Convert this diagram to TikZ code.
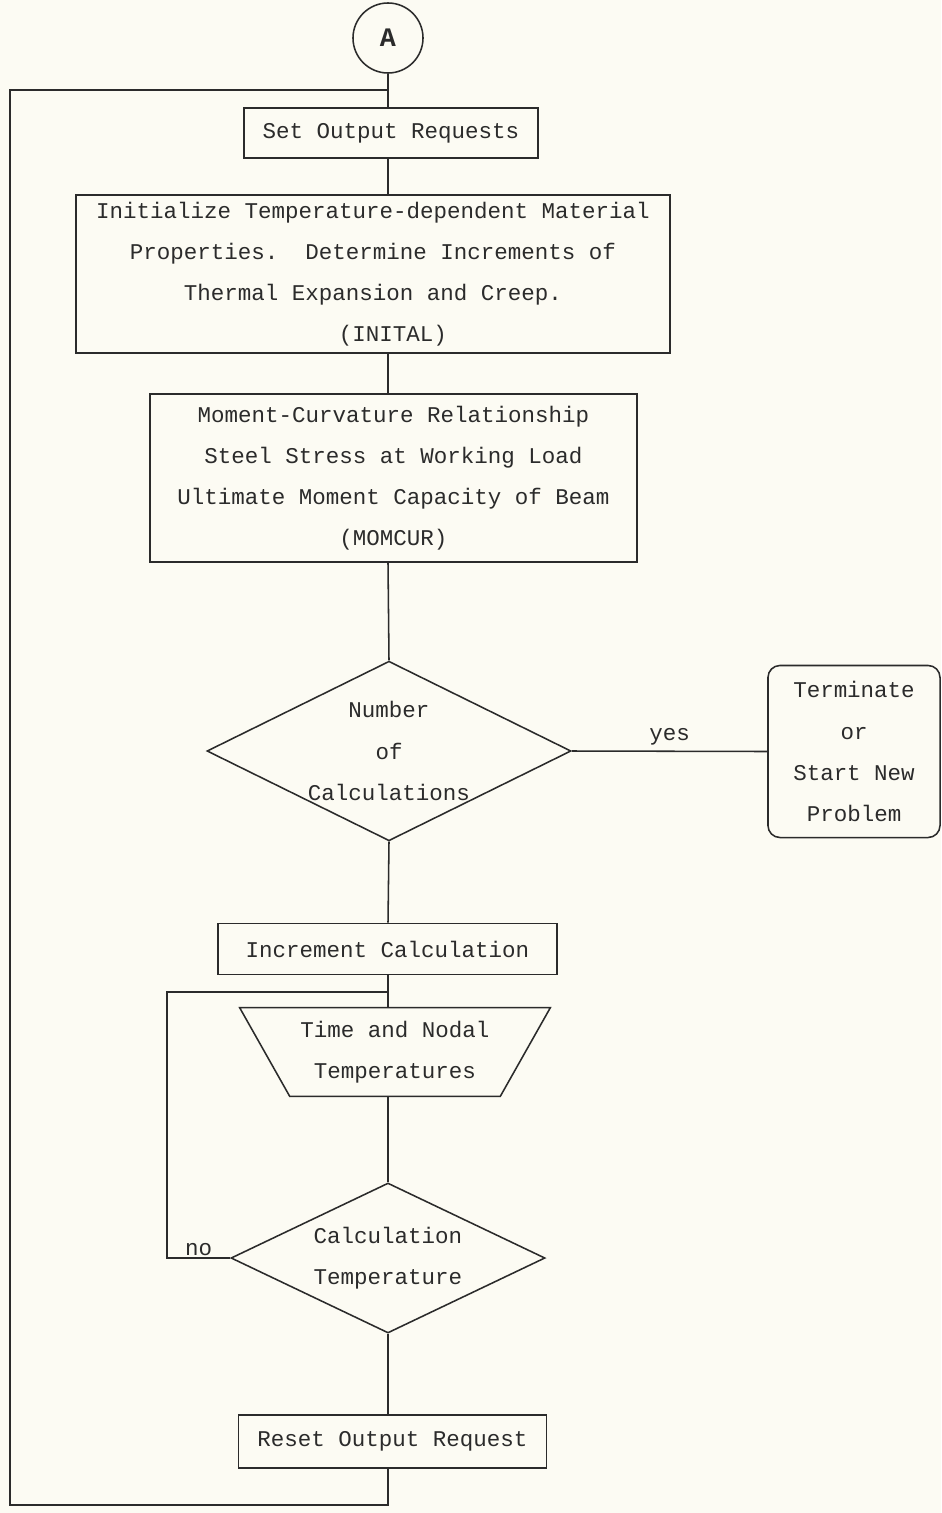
\documentclass[tikz,border=0pt]{standalone}
\usepackage{fontspec}
\usepackage{tikz}
\usetikzlibrary{shapes.geometric,calc}
\newfontfamily\tw{Liberation Mono}
\definecolor{paper}{HTML}{FCFBF3}
\definecolor{ink}{HTML}{2B2B2B}
\tikzset{
  flowtext/.style={font=\tw\fontsize{16}{29.2}\selectfont, text=ink},
  flow/.style={draw=ink, line width=1.1pt},
  stepbox/.style={flowtext, flow, align=center, inner sep=0pt},
  endbox/.style={stepbox, rounded corners=0.3cm},
  decision/.style={stepbox, diamond, aspect=2},
  iobox/.style={flowtext, align=center, inner sep=0pt},
  connector/.style={circle, flow, inner sep=0pt, minimum size=1.75cm,
    font=\tw\bfseries\fontsize{19}{20}\selectfont, text=ink},
  branch/.style={flowtext, inner sep=1pt},
}

\begin{document}
\begin{tikzpicture}[x=0.025cm, y=-0.025cm]

\fill[paper] (0,0) rectangle (941,1513);
\useasboundingbox (0,0) rectangle (941,1513);

\coordinate (spine) at (388,0);

\node[connector] (conA) at (388,38) {A};

\node[stepbox, minimum width=7.35cm, minimum height=1.25cm] (setout) at (391,133)
  {Set Output Requests};

\node[stepbox, minimum width=14.85cm, minimum height=3.95cm] (init) at (373,274)
  {Initialize Temperature-dependent Material\\
   Properties.\ \ Determine Increments of\\
   Thermal Expansion and Creep.\\
   \hspace*{1cm}(INITAL)};

\node[stepbox, minimum width=12.175cm, minimum height=4.2cm] (momcur) at (393.5,478)
  {Moment-Curvature Relationship\\
   Steel Stress at Working Load\\
   Ultimate Moment Capacity of Beam\\
   (MOMCUR)};

\node[decision, minimum width=9.1cm, minimum height=4.45cm] (ncalc) at (389,751)
  {Number\\of\\Calculations};

\node[endbox, minimum width=4.3cm, minimum height=4.3cm] (term) at (854,751.5)
  {Terminate\\or\\Start New\\Problem};

\node[stepbox, minimum width=8.475cm, minimum height=1.275cm] (incr) at (387.5,949)
  {Increment Calculation};

\node[iobox, minimum width=7.75cm, minimum height=2.2cm] (tnodal) at (395,1052)
  {Time and Nodal\\Temperatures};
\draw[flow] (tnodal.north west) -- (tnodal.north east)
  -- ([xshift=-1.25cm]tnodal.south east) -- ([xshift=1.25cm]tnodal.south west) -- cycle;

\node[decision, minimum width=7.85cm, minimum height=3.75cm] (ctemp) at (388,1258)
  {Calculation\\Temperature};

\node[stepbox, minimum width=7.7cm, minimum height=1.325cm] (reset) at (392.5,1441.5)
  {Reset Output Request};

% ===== main line =====
\draw[flow] (conA.south) -- (setout.north -| spine);
\draw[flow] (setout.south -| spine) -- (init.north -| spine);
\draw[flow] (init.south -| spine) -- (momcur.north -| spine);
\draw[flow] (momcur.south -| spine) -- (ncalc.north);
\draw[flow] (ncalc.south) -- (incr.north -| spine);
\draw[flow] (incr.south -| spine) -- (tnodal.north -| spine);
\draw[flow] (tnodal.south -| spine) -- (ctemp.north);
\draw[flow] (ctemp.south) -- (reset.north -| spine);

% ===== yes branch =====
\draw[flow] (ncalc.east) -- node[branch, above=3pt] {yes} (term.west);

% ===== no loop (back above the input box) =====
\coordinate (noturn) at (167,992);
\draw[flow] (ctemp.west) -- (ctemp.west -| noturn) node[branch, midway, above] {no}
  -- (noturn) -- (noturn -| spine);

% ===== outer loop (back to the top) =====
\coordinate (outbot) at (388,1505);
\coordinate (outleft) at (10,1505);
\coordinate (outtop) at (10,90);
\draw[flow] (reset.south -| spine) -- (outbot) -- (outleft) -- (outtop) -- (outtop -| spine);

\end{tikzpicture}
\end{document}
